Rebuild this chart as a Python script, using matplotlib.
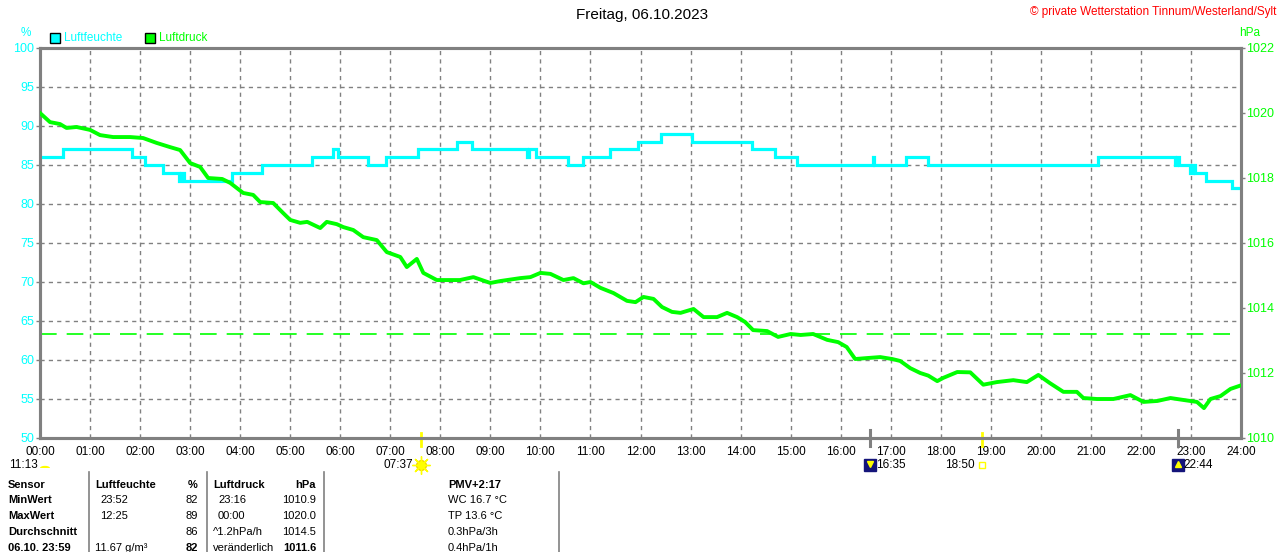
import matplotlib
matplotlib.use("Agg")
import matplotlib.pyplot as plt
from matplotlib.patches import Rectangle, Wedge
from matplotlib.transforms import blended_transform_factory
import numpy as np

# Luftfeuchte (%), Stufenverlauf
hum_t = [0, 0.46, 1.84, 2.10, 2.46, 2.78, 2.82, 2.87, 3.84, 4.44, 5.44, 5.86, 5.96,
         6.55, 6.91, 7.55, 8.33, 8.63, 9.74, 9.78, 9.91, 10.55, 10.85, 11.39, 11.95,
         12.41, 13.03, 14.23, 14.69, 15.13, 16.64, 16.67, 17.31, 17.75, 21.14, 22.68,
         22.72, 22.76, 22.98, 23.04, 23.08, 23.30, 23.82, 24.0]
hum_v = [86, 87, 86, 85, 84, 83, 84, 83, 84, 85, 86, 87, 86,
         85, 86, 87, 88, 87, 86, 87, 86, 85, 86, 87, 88,
         89, 88, 87, 86, 85, 86, 85, 86, 85, 86, 85,
         86, 85, 84, 85, 84, 83, 82, 82]

# Luftdruck (hPa)
press_t = [0.00, 0.20, 0.40, 0.53, 0.73, 1.00, 1.20, 1.46, 1.80, 2.06, 2.33, 2.60, 2.80,
           3.00, 3.20, 3.36, 3.64, 3.80, 4.06, 4.26, 4.40, 4.66, 4.86, 5.00, 5.20, 5.34,
           5.60, 5.73, 5.93, 6.06, 6.26, 6.46, 6.73, 6.93, 7.20, 7.33, 7.53, 7.66, 7.93,
           8.39, 8.66, 9.00, 9.20, 9.60, 9.80, 10.00, 10.20, 10.46, 10.66, 10.86, 11.00,
           11.20, 11.46, 11.73, 11.90, 12.06, 12.26, 12.43, 12.63, 12.80, 13.06, 13.26,
           13.53, 13.73, 13.93, 14.09, 14.25, 14.53, 14.75, 15.00, 15.20, 15.45, 15.73,
           15.95, 16.12, 16.29, 16.53, 16.79, 17.03, 17.19, 17.39, 17.59, 17.75, 17.93,
           18.05, 18.33, 18.59, 18.85, 19.12, 19.45, 19.72, 19.95, 20.18, 20.45, 20.72,
           20.85, 21.12, 21.45, 21.79, 22.05, 22.33, 22.59, 22.85, 23.12, 23.26, 23.39,
           23.59, 23.79, 24.00]
press_v = [1020.00, 1019.72, 1019.66, 1019.54, 1019.57, 1019.48, 1019.32, 1019.26, 1019.26,
           1019.23, 1019.08, 1018.95, 1018.86, 1018.46, 1018.34, 1018.00, 1017.97, 1017.85,
           1017.54, 1017.48, 1017.26, 1017.23, 1016.92, 1016.71, 1016.62, 1016.65, 1016.46,
           1016.65, 1016.58, 1016.49, 1016.40, 1016.18, 1016.09, 1015.72, 1015.57, 1015.26,
           1015.51, 1015.08, 1014.86, 1014.86, 1014.95, 1014.77, 1014.83, 1014.92, 1014.95,
           1015.08, 1015.05, 1014.86, 1014.92, 1014.76, 1014.80, 1014.62, 1014.46, 1014.22,
           1014.18, 1014.34, 1014.28, 1014.03, 1013.88, 1013.85, 1013.97, 1013.72, 1013.72,
           1013.85, 1013.72, 1013.57, 1013.32, 1013.29, 1013.11, 1013.20, 1013.17, 1013.20,
           1013.02, 1012.95, 1012.80, 1012.43, 1012.46, 1012.49, 1012.43, 1012.37, 1012.15,
           1012.00, 1011.92, 1011.75, 1011.85, 1012.03, 1012.02, 1011.64, 1011.72, 1011.78,
           1011.72, 1011.94, 1011.69, 1011.42, 1011.42, 1011.23, 1011.20, 1011.20, 1011.32,
           1011.11, 1011.14, 1011.23, 1011.17, 1011.11, 1010.92, 1011.20, 1011.29, 1011.51,
           1011.62]
press_ref = 1013.2

hours = list(range(25))
hour_labels = ["%02d:00" % h for h in hours]
hum_ticks = list(range(50, 101, 5))
press_ticks = list(range(1010, 1023, 2))

# Sonne / Mond
sun_times = [7 + 37 / 60, 18 + 50 / 60]
sun_labels = ["07:37", "18:50"]
moon_times = [16 + 35 / 60, 22 + 44 / 60]
moon_labels = ["16:35", "22:44"]

# Tabelle
tab_rows = ["Sensor", "MinWert", "MaxWert", "Durchschnitt", "06.10. 23:59"]
hum_time = ["Luftfeuchte", "23:52", "12:25", "", "11.67 g/m³"]
hum_vals = ["%", "82", "89", "86", "82"]
press_time = ["Luftdruck", "23:16", "00:00", "^1.2hPa/h", "veränderlich"]
press_vals = ["hPa", "1010.9", "1020.0", "1014.5", "1011.6"]
pmv_col = ["PMV+2:17", "WC 16.7 °C", "TP 13.6 °C", "0.3hPa/3h", "0.4hPa/1h"]

CYAN = "#00FFFF"
GREEN = "#00FF00"
GRAY = "#808080"

W, H = 1280, 552
plt.rcParams["font.family"] = ["Liberation Sans", "DejaVu Sans"]
fs = 8.5
tfs = 8

fig = plt.figure(figsize=(W / 100, H / 100), dpi=100)
def px(x):
    return x / W
def py(y):
    return 1 - y / H

ax = fig.add_axes([px(40), py(438), px(1241) - px(40), py(48) - py(438)])
ax2 = ax.twinx()

ax.set_xlim(0, 24)
ax.set_ylim(50, 100)
ax2.set_ylim(1010, 1022)

ax.plot(hum_t, hum_v, drawstyle="steps-post", color=CYAN, lw=2.3, solid_joinstyle="miter", zorder=3)
ax2.plot(press_t, press_v, color=GREEN, lw=2.8, zorder=3)
ax2.axhline(press_ref, color=GREEN, lw=1.2, dashes=(10, 6), zorder=2)

ax.set_xticks(hours)
ax.set_xticklabels(hour_labels, fontsize=fs)
ax.set_yticks(hum_ticks)
ax.set_yticklabels([str(v) for v in hum_ticks], fontsize=fs + 0.5, color=CYAN)
ax2.set_yticks(press_ticks)
ax2.set_yticklabels([str(v) for v in press_ticks], fontsize=fs + 0.5, color=GREEN)

ax.grid(True, color=GRAY, lw=1, linestyle=(0, (3, 3)))
ax.tick_params(axis="x", length=0, pad=6)
ax.tick_params(axis="y", length=3, color=GRAY, width=1, pad=1)
ax2.tick_params(axis="y", length=3, color=GRAY, width=1, pad=1)
for a in (ax, ax2):
    for s in a.spines.values():
        s.set_color(GRAY)
        s.set_linewidth(2.2)

# Achsentitel
fig.text(px(26), py(33), "%", color=CYAN, fontsize=fs, ha="center", va="center")
fig.text(px(1250), py(33), "hPa", color=GREEN, fontsize=fs, ha="center", va="center")
fig.text(px(642), py(15), "Freitag, 06.10.2023", fontsize=11, ha="center", va="center")
fig.text(px(1276), py(12), "© private Wetterstation Tinnum/Westerland/Sylt", color="red",
         fontsize=fs, ha="right", va="center")

# Legende
for x0, col, lab in [(50, CYAN, "Luftfeuchte"), (145, GREEN, "Luftdruck")]:
    fig.patches.append(Rectangle((px(x0), py(43)), px(10), py(33) - py(43), transform=fig.transFigure,
                                 facecolor=col, edgecolor="black", lw=1))
    fig.text(px(x0 + 14), py(38), lab, color=col, fontsize=fs, ha="left", va="center")

# Sonne / Mond Markierungen
ey = 464.5
tr = blended_transform_factory(ax.transData, fig.transFigure)
for t, lab in zip(sun_times, sun_labels):
    ax.plot([t, t], [py(433), py(446)], color="yellow", lw=2, transform=tr, clip_on=False, zorder=5)
    fig.text(px(40 + t * 50.04 - 8), py(ey), lab, fontsize=fs, ha="right", va="center")
ax.plot([sun_times[0]], [py(ey)], marker="o", ms=7, color="yellow", mec="#F0D000",
        transform=tr, clip_on=False)
ax.plot([sun_times[0]], [py(ey)], marker=(8, 2, 0), ms=13, color="yellow", mew=1,
        transform=tr, clip_on=False)
ax.plot([sun_times[1]], [py(ey)], marker="s", ms=5, mfc="none", mec="yellow", mew=1,
        transform=tr, clip_on=False)
for t, lab in zip(moon_times, moon_labels):
    ax.plot([t, t], [py(430), py(446)], color=GRAY, lw=2.2, transform=tr, clip_on=False, zorder=5)
    ax.plot([t], [py(ey)], marker="s", ms=8, color="#14147A", transform=tr, clip_on=False)
    ax.plot([t], [py(ey - 1)], marker="v" if t < 20 else "^", ms=4, color="yellow",
            transform=tr, clip_on=False)
    fig.text(px(40 + t * 50.04 + 6), py(ey), lab, fontsize=fs, ha="left", va="center")
fig.text(px(9), py(ey), "11:13", fontsize=fs, ha="left", va="center")
fig.patches.append(Wedge((px(45), py(468)), px(5), 0, 180, transform=fig.transFigure,
                         facecolor="yellow", edgecolor="none"))

# Tabelle
row_y = [485, 500, 516, 532, 548]
for i, y in enumerate(row_y):
    bold = "bold" if i == 0 else "normal"
    fig.text(px(8), py(y), tab_rows[i], fontsize=tfs, weight="bold", ha="left", va="center")
    xh = 95 if i in (0, 4) else 100
    fig.text(px(xh), py(y), hum_time[i], fontsize=tfs, weight=bold, ha="left", va="center")
    fig.text(px(198), py(y), hum_vals[i], fontsize=tfs,
             weight="bold" if i in (0, 4) else "normal", ha="right", va="center")
    xp = 213 if i in (0, 3, 4) else 218
    fig.text(px(xp), py(y), press_time[i], fontsize=tfs, weight=bold, ha="left", va="center")
    fig.text(px(316), py(y), press_vals[i], fontsize=tfs,
             weight="bold" if i in (0, 4) else "normal", ha="right", va="center")
    fig.text(px(448), py(y), pmv_col[i], fontsize=tfs, weight=bold, ha="left", va="center")
for x in [89, 207, 324, 559]:
    fig.add_artist(plt.Line2D([px(x), px(x)], [py(472), py(552)], color=GRAY, lw=1.2))

fig.savefig("out.png", dpi=100)
